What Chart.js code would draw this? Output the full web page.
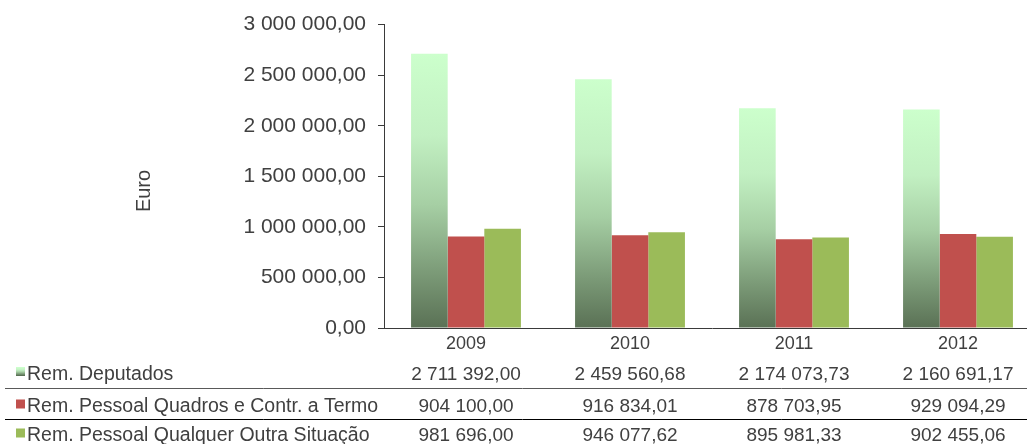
<!DOCTYPE html>
<html>
<head>
<meta charset="utf-8">
<script src="https://cdn.jsdelivr.net/npm/chart.js@4"></script>
<style>
  html, body { margin: 0; padding: 0; background: #fff; overflow: hidden; }
  canvas { display: block; }
</style>
</head>
<body>
<canvas id="grafico" width="1040" height="444"></canvas>
<script>
// dados do gráfico
const anos = ['2009', '2010', '2011', '2012'];
const remDeputados = [2711392.00, 2459560.68, 2174073.73, 2160691.17];
const remQuadros = [904100.00, 916834.01, 878703.95, 929094.29];
const remOutra = [981696.00, 946077.62, 895981.33, 902455.06];
const nomesSeries = [
  'Rem. Deputados',
  'Rem. Pessoal Quadros e Contr. a Termo',
  'Rem. Pessoal Qualquer Outra Situação'
];
const eixoMax = 3000000;
const eixoPasso = 500000;

const COR_TEXTO = '#404040';
const FONTE = '"Liberation Sans", Arial, sans-serif';

// formata 2711392 -> "2 711 392,00"
function formatar(v) {
  const partes = v.toFixed(2).split('.');
  const inteiro = partes[0].replace(/\B(?=(\d{3})+(?!\d))/g, ' ');
  return inteiro + ',' + partes[1];
}

function gradienteDeputados(ctx, yTopo, yBase) {
  const g = ctx.createLinearGradient(0, yTopo, 0, yBase);
  g.addColorStop(0, '#ccffcc');
  g.addColorStop(0.3, '#c2f0c2');
  g.addColorStop(0.55, '#a6cfa4');
  g.addColorStop(0.8, '#7b9a77');
  g.addColorStop(1, '#5a7155');
  return g;
}

// ==================== TABELA DE DADOS + TÍTULO ====================
const tabelaPlugin = {
  id: 'tabelaDados',
  afterDraw(chart) {
    const ctx = chart.ctx;
    const x = chart.scales.x;
    const largura = chart.width;

    ctx.save();

    // título do eixo Y
    ctx.save();
    ctx.translate(144, 191);
    ctx.rotate(-Math.PI / 2);
    ctx.font = '20px ' + FONTE;
    ctx.fillStyle = COR_TEXTO;
    ctx.textAlign = 'center';
    ctx.textBaseline = 'middle';
    ctx.fillText('Euro', 0, 0);
    ctx.restore();

    const linhas = [remDeputados, remQuadros, remOutra];
    const baselines = [379.5, 412, 441];
    const cores = [null, '#c0504d', '#9bbb59'];

    linhas.forEach((serie, i) => {
      const yb = baselines[i];
      // marcador
      if (i === 0) {
        ctx.fillStyle = gradienteDeputados(ctx, yb - 12, yb - 4);
      } else {
        ctx.fillStyle = cores[i];
      }
      ctx.fillRect(16, yb - 12.5, 9, 9);

      ctx.fillStyle = COR_TEXTO;
      ctx.font = '19.5px ' + FONTE;
      ctx.textAlign = 'left';
      ctx.textBaseline = 'alphabetic';
      ctx.fillText(nomesSeries[i], 27, yb);

      ctx.font = '19px ' + FONTE;
      ctx.textAlign = 'center';
      serie.forEach((v, j) => {
        ctx.fillText(formatar(v), x.getPixelForValue(j), yb);
      });
    });

    // linhas separadoras
    ctx.lineWidth = 1;
    ctx.strokeStyle = '#595959';
    ctx.beginPath();
    ctx.moveTo(5, 388.5);
    ctx.lineTo(largura, 388.5);
    ctx.stroke();
    ctx.strokeStyle = '#000';
    ctx.beginPath();
    ctx.moveTo(5, 419.5);
    ctx.lineTo(largura, 419.5);
    ctx.stroke();

    ctx.restore();
  }
};

const canvas = document.getElementById('grafico');

new Chart(canvas, {
  type: 'bar',
  data: {
    labels: anos,
    datasets: [
      {
        label: nomesSeries[0],
        data: remDeputados,
        backgroundColor: (c) => {
          const chart = c.chart;
          if (!chart.chartArea || c.raw === undefined) return '#8aae88';
          const y = chart.scales.y;
          return gradienteDeputados(chart.ctx, y.getPixelForValue(c.raw), y.getPixelForValue(0));
        }
      },
      { label: nomesSeries[1], data: remQuadros, backgroundColor: '#c0504d' },
      { label: nomesSeries[2], data: remOutra, backgroundColor: '#9bbb59' }
    ]
  },
  options: {
    responsive: false,
    animation: false,
    events: [],
    categoryPercentage: 0.67,
    barPercentage: 1,
    layout: { padding: { top: 24, left: 0, right: 0, bottom: 0 } },
    plugins: {
      legend: { display: false },
      tooltip: { enabled: false }
    },
    scales: {
      x: {
        afterFit: (s) => { s.height = 116; },
        grid: { display: true, drawOnChartArea: false, drawTicks: false },
        border: { display: true, color: '#3a3a3a', width: 1 },
        ticks: {
          color: COR_TEXTO,
          font: { family: FONTE, size: 18 },
          padding: 5
        }
      },
      y: {
        min: 0,
        max: eixoMax,
        afterFit: (s) => { s.width = 384; },
        grid: { drawOnChartArea: false, drawTicks: true, tickLength: 6, color: '#3a3a3a' },
        border: { display: true, color: '#3a3a3a', width: 1 },
        ticks: {
          stepSize: eixoPasso,
          padding: 12,
          color: COR_TEXTO,
          font: { family: FONTE, size: 21 },
          callback: (v) => formatar(v)
        }
      }
    }
  },
  plugins: [tabelaPlugin]
});
</script>
</body>
</html>
